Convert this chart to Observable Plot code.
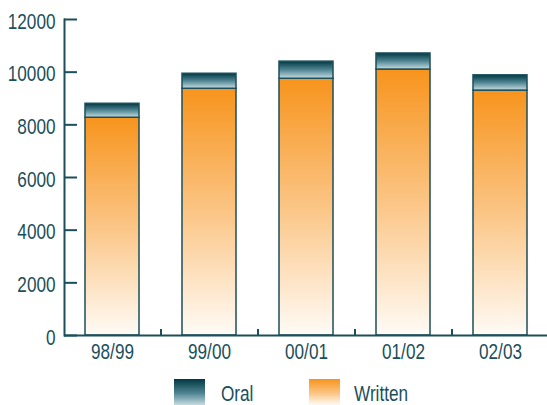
<!DOCTYPE html>
<html>
<head>
<meta charset="utf-8">
<script src="https://cdn.jsdelivr.net/npm/d3@7"></script>
<script src="https://cdn.jsdelivr.net/npm/@observablehq/plot@0.6"></script>
<style>
  html, body { margin: 0; padding: 0; background: #fff; }
  #chart { width: 547px; height: 405px; position: relative; overflow: hidden;
           font-family: "Liberation Sans", Arial, sans-serif; color: #1b4f5b; }
  #legend { position: absolute; left: 0; top: 379px; width: 547px; height: 26px; }
  .sw { position: absolute; top: 0; width: 31px; height: 26px; }
  .lab { position: absolute; top: 4px; font-size: 22px; line-height: 22px;
         transform: scaleX(0.78); transform-origin: left center; white-space: nowrap; }
</style>
</head>
<body>
<div id="chart"></div>
<script>
// Examinations per school year, split into written and oral components
const years = ["98/99", "99/00", "00/01", "01/02", "02/03"];
const written = [8270, 9370, 9750, 10100, 9300];
const oral = [530, 570, 650, 610, 580];
const yTicks = [0, 2000, 4000, 6000, 8000, 10000, 12000];
const seriesNames = ["Oral", "Written"];

const ink = "#1b4f5b";
const W = 547, H = 372;
const mLeft = 64, mTop = 19, mBottom = 37, mRight = 0;
const xRange = [64, 549];
const step = (xRange[1] - xRange[0]) / years.length;
const pxPerUnit = (H - mTop - mBottom) / 12000;
const narrow = 0.78; // horizontal squeeze for a condensed look

const rows = years.map((year, i) => ({
  year,
  written: written[i],
  oral: oral[i],
  total: written[i] + oral[i]
}));

const svg = Plot.plot({
  width: W,
  height: H,
  marginLeft: mLeft,
  marginTop: mTop,
  marginBottom: mBottom,
  marginRight: mRight,
  style: { fontFamily: "'Liberation Sans', Arial, sans-serif", fontSize: "22px", color: ink, background: "#fff" },
  x: { domain: years, range: xRange, paddingInner: 0.443, paddingOuter: 0.2215, label: null },
  y: { domain: [0, 12000], label: null },
  marks: [
    Plot.barY(rows, { x: "year", y1: 0, y2: "written", fill: "url(#gWritten)", stroke: ink, strokeWidth: 1.5 }),
    Plot.barY(rows, { x: "year", y1: "written", y2: "total", fill: "url(#gOral)", stroke: ink, strokeWidth: 1.5 }),
    // inward ticks on the value axis
    Plot.ruleY(yTicks, { stroke: ink, strokeWidth: 2, insetRight: (W - mLeft - mRight) - 13 }),
    // short upward ticks between categories
    Plot.ruleX(years.slice(1), { x: d => d, y1: 0, y2: 6 / pxPerUnit, dx: -step / 2, stroke: ink, strokeWidth: 2 }),
    Plot.ruleY([0], { stroke: ink, strokeWidth: 2 }),
    Plot.frame({ anchor: "left", stroke: ink, strokeWidth: 2 }),
    Plot.axisY(yTicks, { tickSize: 0, tickPadding: 9, dy: 2, tickFormat: d => String(d), fill: ink, fontSize: 22 }),
    Plot.axisX({ tickSize: 0, tickPadding: 8, fill: ink, fontSize: 22 })
  ]
});

// squeeze every label horizontally around its anchor point
svg.querySelectorAll("text").forEach(t => {
  let tr = t.getAttribute("transform");
  if (!tr) {
    const x = +(t.getAttribute("x") || 0), y = +(t.getAttribute("y") || 0);
    t.removeAttribute("x");
    t.removeAttribute("y");
    tr = `translate(${x},${y})`;
  }
  t.setAttribute("transform", `${tr} scale(${narrow},1)`);
});

// gradient definitions used by the bars
const defs = d3.select(svg).insert("defs", ":first-child");
const gw = defs.append("linearGradient").attr("id", "gWritten").attr("x1", 0).attr("y1", 0).attr("x2", 0).attr("y2", 1);
gw.append("stop").attr("offset", 0).attr("stop-color", "#f7941d");
gw.append("stop").attr("offset", 0.5).attr("stop-color", "#fbc585");
gw.append("stop").attr("offset", 1).attr("stop-color", "#fffbf6");
const go = defs.append("linearGradient").attr("id", "gOral").attr("x1", 0).attr("y1", 0).attr("x2", 0).attr("y2", 1);
go.append("stop").attr("offset", 0).attr("stop-color", "#003843");
go.append("stop").attr("offset", 0.5).attr("stop-color", "#4f8592");
go.append("stop").attr("offset", 1).attr("stop-color", "#c6dce1");

const chart = document.getElementById("chart");
chart.appendChild(svg);

// legend below the plot
const legend = document.createElement("div");
legend.id = "legend";
const legendItems = [
  { name: seriesNames[0], swatch: "linear-gradient(#003843, #4f8592 55%, #c6dce1)", sx: 174, tx: 221 },
  { name: seriesNames[1], swatch: "linear-gradient(#f7941d, #fbc585 55%, #fffbf6)", sx: 309, tx: 354 }
];
for (const it of legendItems) {
  const s = document.createElement("div");
  s.className = "sw";
  s.style.left = it.sx + "px";
  s.style.background = it.swatch;
  legend.appendChild(s);
  const t = document.createElement("div");
  t.className = "lab";
  t.style.left = it.tx + "px";
  t.textContent = it.name;
  legend.appendChild(t);
}
chart.appendChild(legend);
</script>
</body>
</html>
